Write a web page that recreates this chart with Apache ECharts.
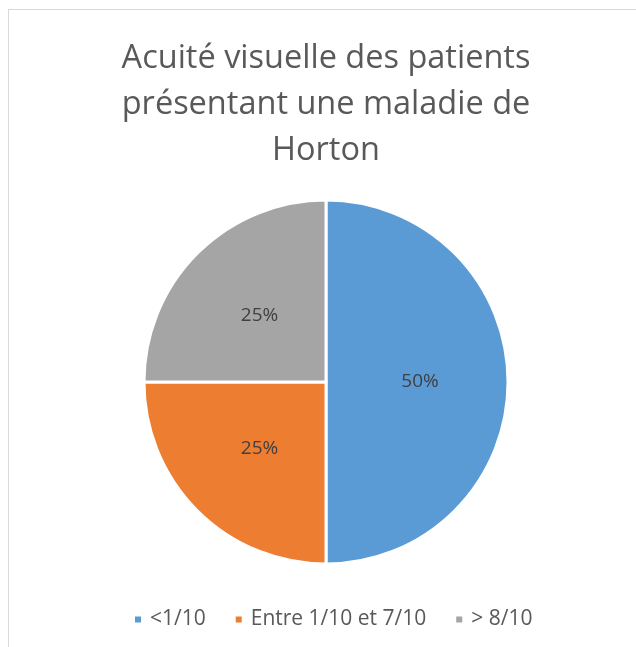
<!DOCTYPE html>
<html><head><meta charset="utf-8">
<script src="https://cdn.jsdelivr.net/npm/echarts@6/dist/echarts.min.js"></script>
<style>
html,body{margin:0;padding:0;background:#fff;overflow:hidden;}
#frame{position:absolute;left:8px;top:9px;width:700px;height:700px;border:1px solid #d9d9d9;box-sizing:border-box;}
#c{position:absolute;left:8px;top:0;width:636px;height:647px;}
</style></head>
<body>
<div id="frame"></div>
<div id="c"></div>
<script>
const categories = ['<1/10', 'Entre 1/10 et 7/10', '> 8/10'];
const values = [50, 25, 25];
const colors = ['#5B9BD5', '#ED7D31', '#A5A5A5'];
const titleText = 'Acuité visuelle des patients\nprésentant une maladie de\nHorton';

const chart = echarts.init(document.getElementById('c'));
chart.setOption({
  animation: false,
  title: {
    text: titleText,
    left: 'center',
    top: 31,
    textStyle: { fontFamily: 'Open Sans', fontSize: 32.5, fontWeight: 'normal', color: '#595959', lineHeight: 46 }
  },
  legend: {
    top: 604,
    left: 120,
    icon: 'rect',
    itemWidth: 8,
    itemHeight: 8,
    itemGap: 28,
    textStyle: { fontFamily: 'Open Sans', fontSize: 21, color: '#595959', padding: [0, 0, 0, 3] },
    data: categories
  },
  series: [{
    type: 'pie',
    center: [318, 382],
    radius: [0, 182],
    startAngle: 90,
    clockwise: true,
    color: colors,
    itemStyle: { borderColor: '#fff', borderWidth: 3 },
    label: { show: true, position: 'inside', formatter: '{d}%', fontFamily: 'Open Sans', fontSize: 19, color: '#404040' },
    labelLine: { show: false },
    data: categories.map((n, i) => ({ name: n, value: values[i] }))
  }]
});
</script>
</body></html>
